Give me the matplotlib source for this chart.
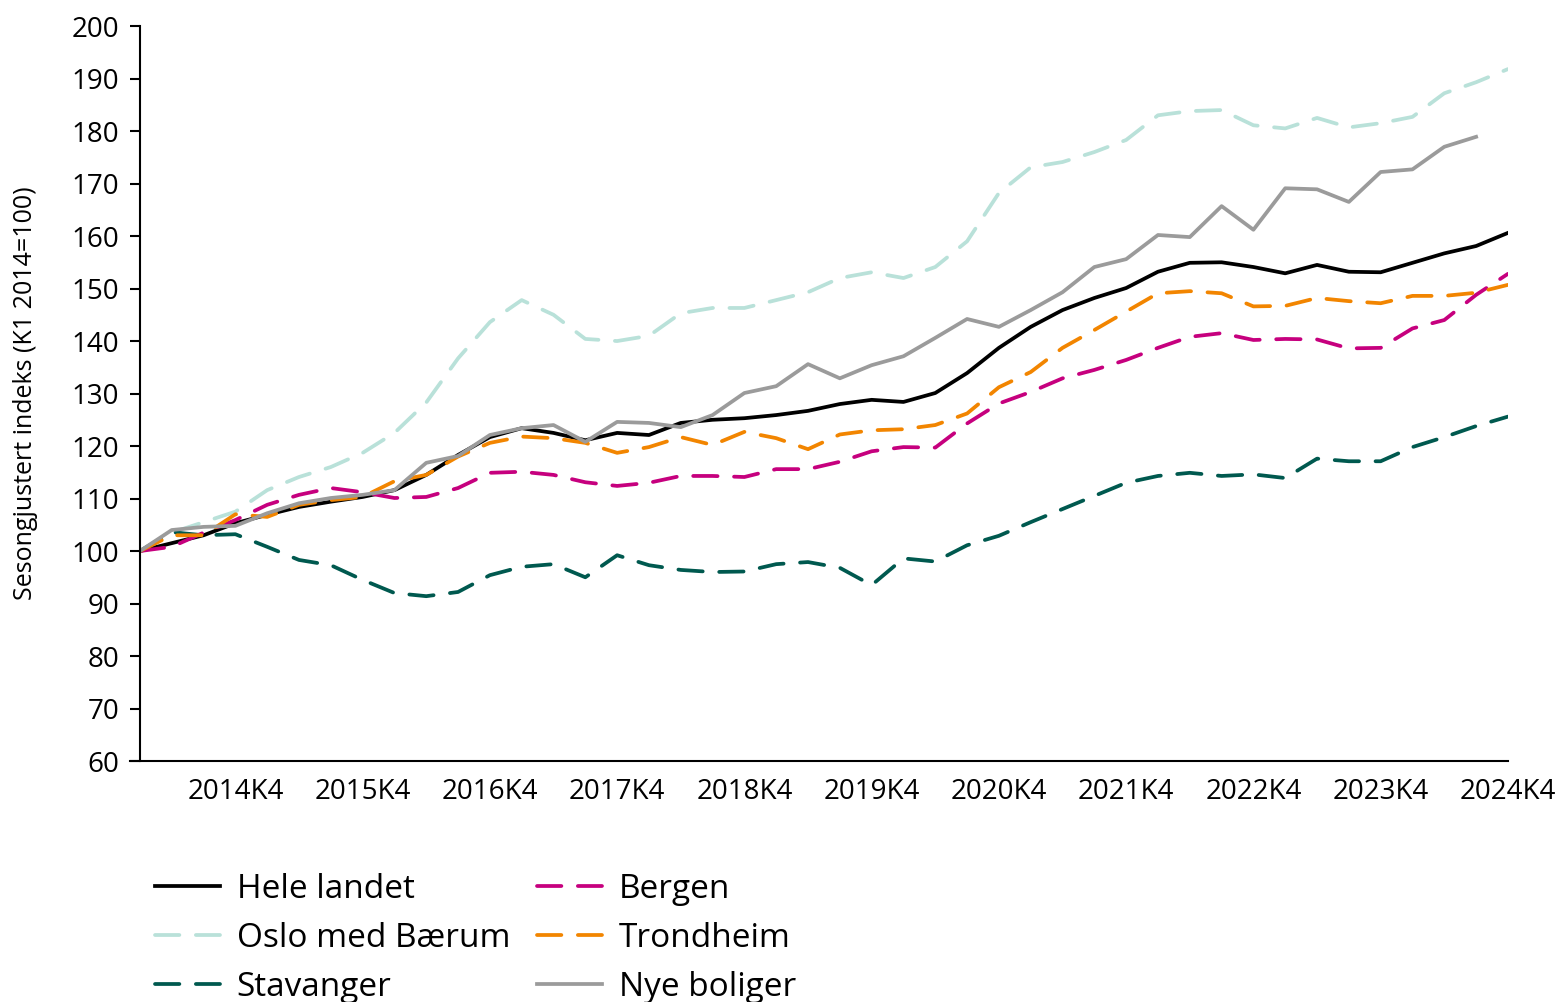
import matplotlib.pyplot as plt
import numpy as np

# quarters 2014K1 .. 2024K4
years = list(range(2014, 2025))
quarters = [f"{y}K{q}" for y in years for q in range(1, 5)]

hele_landet = [100, 101.5, 103, 105.3, 106.9, 108.4, 109.4, 110.3, 111.6, 114.5,
               118.3, 121.7, 123.4, 122.5, 121.1, 122.5, 122.1, 124.4, 125, 125.3,
               125.9, 126.7, 128, 128.8, 128.4, 130.1, 133.9, 138.7, 142.7, 145.9,
               148.2, 150.1, 153.2, 154.9, 155.0, 154.1, 152.9, 154.5, 153.2, 153.1,
               154.9, 156.7, 158.1, 160.6]
oslo = [100, 103.5, 105.5, 107.5, 111.6, 114.1, 116, 118.7, 122.5, 128.3,
        136.7, 143.6, 147.8, 145, 140.4, 140, 141, 145.3, 146.3, 146.3,
        147.8, 149.3, 152, 153.1, 152, 154.1, 159, 168.2, 173.1, 174.1,
        176, 178.3, 183, 183.8, 184, 181.1, 180.5, 182.5, 180.7, 181.5,
        182.7, 187.2, 189.3, 191.8]
stavanger = [100, 103.6, 103, 103.2, 100.8, 98.3, 97.3, 94.5, 92, 91.4,
             92.2, 95.4, 97, 97.5, 95, 99.2, 97.3, 96.4, 96, 96.1,
             97.5, 97.9, 96.8, 93.5, 98.6, 98, 101.1, 102.9, 105.5, 108,
             110.5, 113, 114.3, 114.9, 114.3, 114.6, 113.9, 117.6, 117.1, 117.1,
             119.8, 121.7, 123.8, 125.6]
bergen = [100, 100.8, 103.5, 105.9, 108.8, 110.7, 112, 111.2, 110.1, 110.3,
          112, 114.9, 115.1, 114.5, 113.1, 112.4, 113, 114.3, 114.3, 114.1,
          115.6, 115.6, 117, 119, 119.8, 119.7, 124.3, 128.1, 130.3, 132.9,
          134.5, 136.4, 138.7, 140.8, 141.5, 140.2, 140.4, 140.3, 138.6, 138.7,
          142.4, 144, 148.8, 152.8]
trondheim = [100, 103, 103, 107, 106.5, 108.8, 109.7, 110.3, 113.3, 114.5,
             118, 120.6, 121.8, 121.5, 120.6, 118.7, 119.8, 121.7, 120.2, 122.7,
             121.5, 119.4, 122.2, 123, 123.2, 124, 126.2, 131.2, 134.1, 138.7,
             142.1, 145.6, 149.1, 149.5, 149.1, 146.6, 146.7, 148.2, 147.6, 147.2,
             148.6, 148.6, 149.2, 150.7]
nye_boliger = [100, 104, 104.6, 104.8, 107.2, 109.1, 110.1, 110.7, 111.6, 116.8,
               118.1, 122.1, 123.4, 124, 120.8, 124.6, 124.4, 123.6, 125.9, 130.1,
               131.4, 135.6, 132.9, 135.4, 137.1, 140.6, 144.2, 142.7, 145.9, 149.3,
               154.1, 155.6, 160.2, 159.8, 165.7, 161.2, 169.1, 168.9, 166.5, 172.2,
               172.7, 177, 178.9, np.nan]

plt.rcParams['font.family'] = ['Open Sans', 'DejaVu Sans']

fig = plt.figure(figsize=(15.67, 10.02), dpi=100)
ax = fig.add_axes([0.0893, 0.2405, 0.873, 0.7335])

x = np.arange(len(quarters))
lw = 2.7
dash = (6.5, 4.4)

ax.plot(x, hele_landet, color="#000000", lw=lw, label="Hele landet")
ax.plot(x, oslo, color="#b9e1d9", lw=lw, ls=(0, dash), dash_capstyle="round", label="Oslo med Bærum")
ax.plot(x, stavanger, color="#00594f", lw=lw, ls=(0, dash), dash_capstyle="round", label="Stavanger")
ax.plot(x, bergen, color="#c6007e", lw=lw, ls=(0, dash), dash_capstyle="round", label="Bergen")
ax.plot(x, trondheim, color="#f28500", lw=lw, ls=(0, dash), dash_capstyle="round", label="Trondheim")
ax.plot(x, nye_boliger, color="#9b9b9b", lw=lw, label="Nye boliger")

ax.set_xlim(0, len(quarters) - 1)
ax.set_ylim(60, 200)
ax.set_yticks(range(60, 201, 10))
k4 = [i for i, q in enumerate(quarters) if q.endswith("K4")]
ax.set_xticks(k4, [quarters[i] for i in k4])
ax.tick_params(axis="x", length=0, labelsize=20, pad=12)
ax.tick_params(axis="y", direction="out", length=7, width=1.5, labelsize=20, pad=8)

for s in ("top", "right"):
    ax.spines[s].set_visible(False)
for s in ("left", "bottom"):
    ax.spines[s].set_linewidth(1.5)
ax.spines["bottom"].set_bounds(-0.3, len(quarters) - 1)

ax.set_ylabel("Sesongjustert indeks (K1 2014=100)", fontsize=18, labelpad=24)

fig.legend(loc="upper left", bbox_to_anchor=(0.099, 0.129), ncol=2, frameon=False,
           fontsize=24, handlelength=1.95, handletextpad=0.5, columnspacing=0.8,
           labelspacing=0.48, borderaxespad=0, borderpad=0)

plt.savefig("out.png", dpi=100)
